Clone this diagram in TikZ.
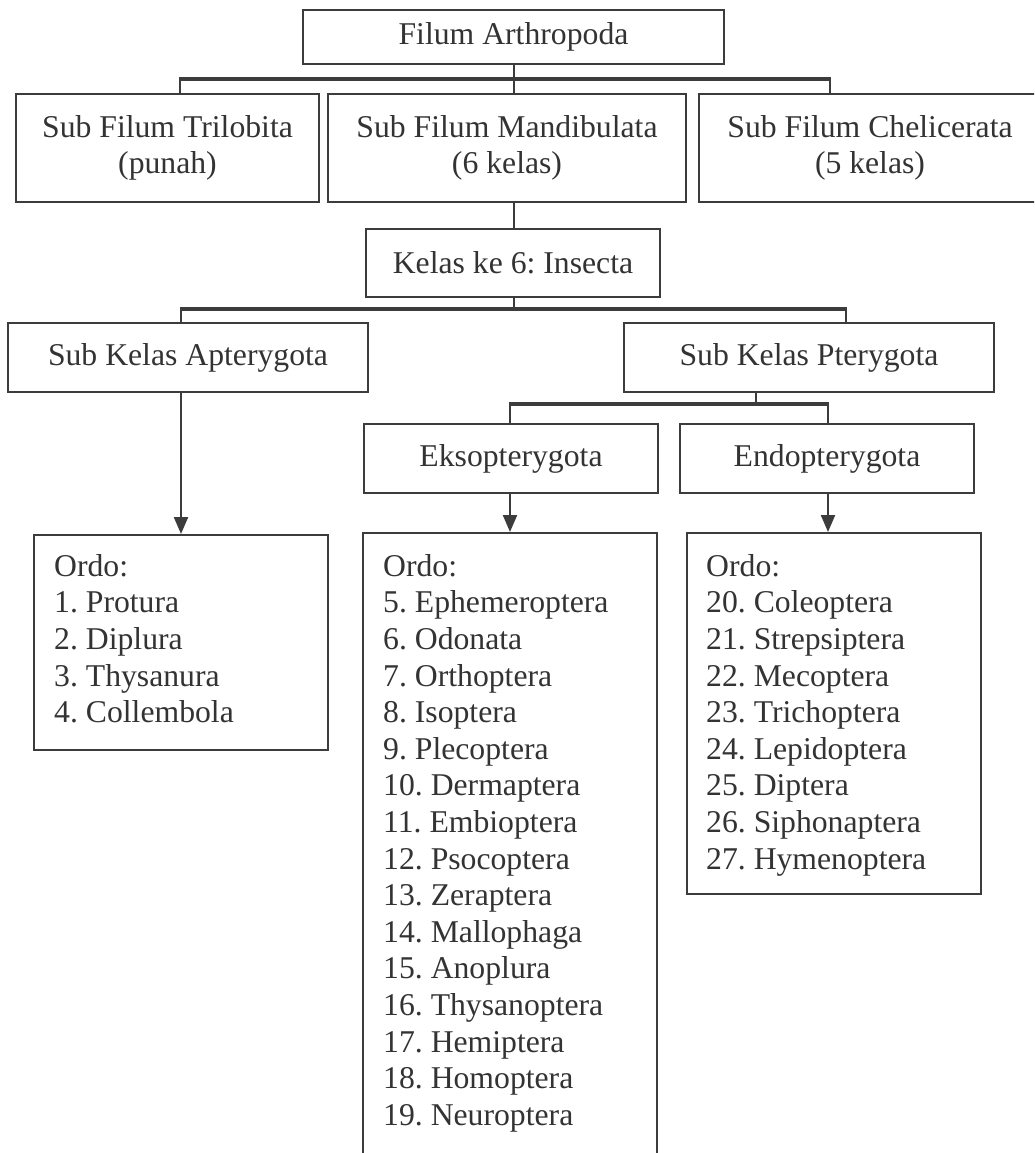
\documentclass[tikz,border=0pt]{standalone}
\usepackage{fontspec}
\setmainfont{Liberation Serif}
\usetikzlibrary{arrows.meta}
\definecolor{ln}{HTML}{3C3C3C}
\definecolor{tx}{HTML}{333333}
\frenchspacing
\begin{document}
\frenchspacing
\begin{tikzpicture}[x=1pt,y=-1pt,
  box/.style={draw=ln, line width=2pt, inner sep=0pt, text=tx, align=center,
    font=\fontsize{31.7}{36.6}\selectfont\frenchspacing},
  bus/.style={draw=ln, line width=3.5pt},
  drop/.style={draw=ln, line width=2.2pt},
  arr/.style={draw=ln, line width=2.2pt, -{Triangle[length=17pt,width=14pt]}},
  list/.style={text=tx, align=left, inner sep=0pt, anchor=north west,
    font=\fontsize{31.7}{36.6}\selectfont\frenchspacing}]
\useasboundingbox (0,0) rectangle (1034,1153);
\clip (0,0) rectangle (1034,1153);
\fill[white] (0,0) rectangle (1034,1153);
% level 1
\node[box, minimum width=421pt, minimum height=54pt] (top) at (513.5,37) {Filum Arthropoda};
% level 2
\node[box, minimum width=303pt, minimum height=108pt] (tri) at (167.5,148) {Sub Filum Trilobita\\(punah)};
\node[box, minimum width=358pt, minimum height=108pt] (mand) at (507,148) {Sub Filum Mandibulata\\(6 kelas)};
\node[box, minimum width=342pt, minimum height=108pt] (chel) at (870,148) {Sub Filum Chelicerata\\(5 kelas)};
% level 3
\node[box, minimum width=294pt, minimum height=68pt] (kelas) at (513,263) {Kelas ke 6: Insecta};
% level 4
\node[box, minimum width=360pt, minimum height=69pt] (apt) at (188,357.5) {Sub Kelas Apterygota};
\node[box, minimum width=370pt, minimum height=69pt] (pte) at (809,357.5) {Sub Kelas Pterygota};
% level 5
\node[box, minimum width=294pt, minimum height=69pt] (ekso) at (511,458.5) {Eksopterygota};
\node[box, minimum width=294pt, minimum height=69pt] (endo) at (827,458.5) {Endopterygota};
% ordo boxes
\node[box, minimum width=294pt, minimum height=215pt] (o1) at (181,642.5) {};
\node[box, minimum width=294pt, minimum height=632pt] (o2) at (510,849) {};
\node[box, minimum width=294pt, minimum height=361pt] (o3) at (834,713.5) {};
\node[list] (t1) at (54,554) {Ordo:\\1. Protura\\2. Diplura\\3. Thysanura\\4. Collembola};
\node[list] (t2) at (383,554) {Ordo:\\5. Ephemeroptera\\6. Odonata\\7. Orthoptera\\8. Isoptera\\9. Plecoptera\\10. Dermaptera\\11. Embioptera\\12. Psocoptera\\13. Zeraptera\\14. Mallophaga\\15. Anoplura\\16. Thysanoptera\\17. Hemiptera\\18. Homoptera\\19. Neuroptera};
\node[list] (t3) at (706,554) {Ordo:\\20. Coleoptera\\21. Strepsiptera\\22. Mecoptera\\23. Trichoptera\\24. Lepidoptera\\25. Diptera\\26. Siphonaptera\\27. Hymenoptera};
% connectors level 1-2
\coordinate (b1l) at (180,79);
\coordinate (b1m) at (514,79);
\coordinate (b1r) at (830,79);
\draw[drop] (b1m |- top.south) -- (b1m);
\draw[bus] ([xshift=-1.1pt]b1l) -- ([xshift=1.1pt]b1r);
\draw[drop] (b1l) -- (b1l |- tri.north);
\draw[drop] (b1m) -- (b1m |- mand.north);
\draw[drop] (b1r) -- (b1r |- chel.north);
\draw[drop] (b1m |- mand.south) -- (b1m |- kelas.north);
% connectors level 3-4
\coordinate (b2l) at (181,309);
\coordinate (b2m) at (514,309);
\coordinate (b2r) at (846,309);
\draw[drop] (b2m |- kelas.south) -- (b2m);
\draw[bus] ([xshift=-1.1pt]b2l) -- ([xshift=1.1pt]b2r);
\draw[drop] (b2l) -- (b2l |- apt.north);
\draw[drop] (b2r) -- (b2r |- pte.north);
% connectors level 4-5
\coordinate (b3l) at (510,404);
\coordinate (b3m) at (756,404);
\coordinate (b3r) at (828,404);
\draw[drop] (b3m |- pte.south) -- (b3m);
\draw[bus] ([xshift=-1.1pt]b3l) -- ([xshift=1.1pt]b3r);
\draw[drop] (b3l) -- (b3l |- ekso.north);
\draw[drop] (b3r) -- (b3r |- endo.north);
% arrows
\draw[arr] (b2l |- apt.south) -- (b2l |- o1.north);
\draw[arr] (b3l |- ekso.south) -- (b3l |- o2.north);
\draw[arr] (b3r |- endo.south) -- (b3r |- o3.north);
\end{tikzpicture}
\end{document}
